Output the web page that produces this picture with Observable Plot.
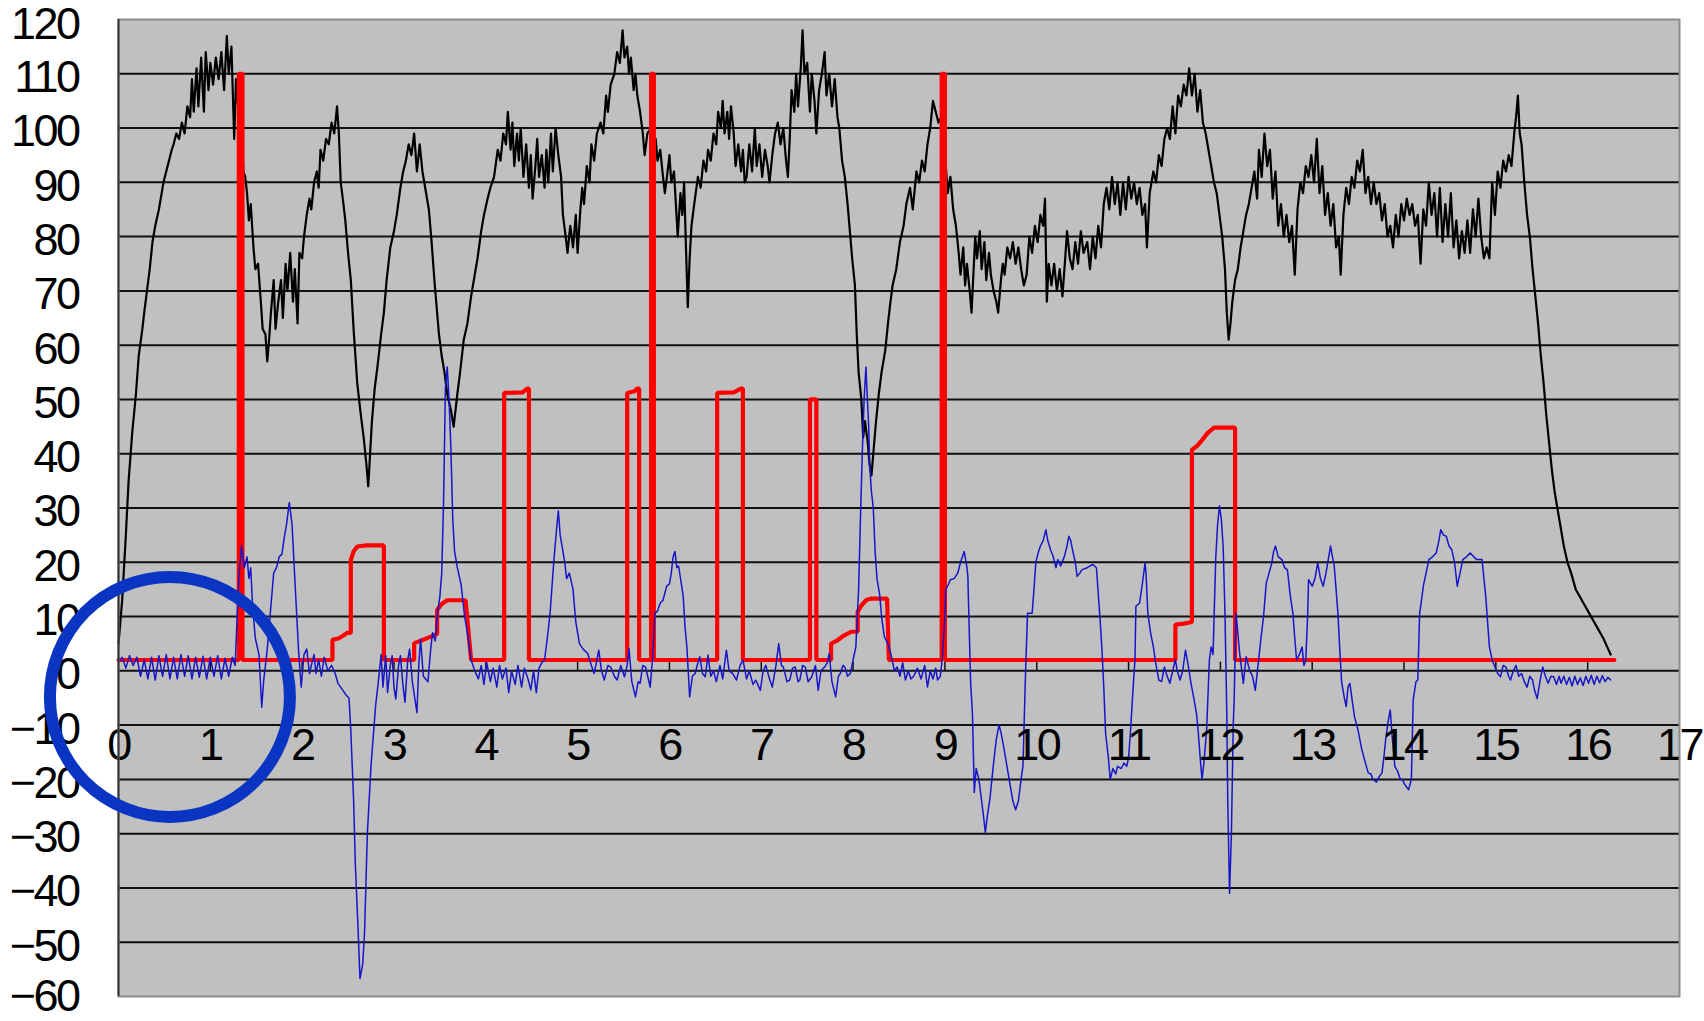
<!DOCTYPE html>
<html>
<head>
<meta charset="utf-8">
<script src="https://cdn.jsdelivr.net/npm/d3@7"></script>
<script src="https://cdn.jsdelivr.net/npm/@observablehq/plot@0.6"></script>
<style>
  html, body { margin: 0; padding: 0; background: #ffffff; }
  #chart { width: 1704px; height: 1021px; }
</style>
</head>
<body>
<div id="chart"></div>
<script>
// ---- tick labels ----
const xTicks = [0,1,2,3,4,5,6,7,8,9,10,11,12,13,14,15,16,17];
const yTicks = [-60,-50,-40,-30,-20,-10,0,10,20,30,40,50,60,70,80,90,100,110,120];

// ---- black series [x, y] ----
const blackLine = [[0,5],[0.02,9],[0.04,13],[0.06,19],[0.08,25],[0.11,35],[0.15,44],[0.19,51],[0.22,58],[0.26,63],[0.28,66],[0.31,70],[0.34,74],[0.37,79],[0.40,82],[0.44,85],[0.47,88],[0.49,90],[0.52,92],[0.55,94],[0.58,96],[0.60,97],[0.63,99],[0.66,98],[0.69,101],[0.72,99],[0.75,104],[0.78,102],[0.80,109],[0.82,103],[0.85,111],[0.87,104],[0.90,113],[0.93,103],[0.95,114],[0.98,107],[1.00,112],[1.03,108],[1.06,113],[1.09,109],[1.12,114],[1.15,107],[1.18,117],[1.20,110],[1.23,115],[1.26,98],[1.28,109],[1.31,102],[1.33,105],[1.36,92],[1.38,91],[1.40,88],[1.42,83],[1.44,86],[1.47,78],[1.49,74],[1.52,75],[1.55,68],[1.57,63],[1.60,62],[1.62,57],[1.64,61],[1.66,66],[1.69,72],[1.71,63],[1.74,68],[1.77,72],[1.79,65],[1.82,75],[1.84,70],[1.87,77],[1.90,68],[1.92,74],[1.95,64],[1.97,77],[2.00,76],[2.02,80],[2.05,84],[2.08,87],[2.10,85],[2.13,90],[2.16,92],[2.18,89],[2.20,96],[2.23,94],[2.26,98],[2.29,97],[2.32,101],[2.35,99],[2.38,104],[2.40,99],[2.42,90],[2.45,86],[2.47,83],[2.50,77],[2.53,72],[2.56,63],[2.60,53],[2.64,47],[2.67,43],[2.70,38],[2.72,34],[2.74,40],[2.76,46],[2.79,52],[2.82,56],[2.86,62],[2.89,66],[2.92,72],[2.96,78],[3.00,81],[3.03,84],[3.07,89],[3.10,92],[3.13,94],[3.16,97],[3.19,95],[3.22,99],[3.25,92],[3.28,97],[3.31,92],[3.34,89],[3.38,85],[3.41,79],[3.44,72],[3.47,66],[3.49,62],[3.52,58],[3.55,55],[3.58,51],[3.62,48],[3.65,45],[3.69,51],[3.72,55],[3.76,61],[3.80,64],[3.84,69],[3.87,72],[3.91,76],[3.95,81],[3.98,84],[4.02,87],[4.05,89],[4.09,91],[4.13,96],[4.16,94],[4.19,99],[4.22,97],[4.24,103],[4.27,96],[4.29,101],[4.31,93],[4.34,99],[4.36,94],[4.38,100],[4.41,91],[4.44,97],[4.47,89],[4.49,95],[4.51,87],[4.54,93],[4.56,98],[4.58,91],[4.61,95],[4.64,89],[4.66,96],[4.68,90],[4.71,99],[4.73,92],[4.76,100],[4.79,95],[4.82,91],[4.84,84],[4.87,80],[4.89,77],[4.92,82],[4.95,78],[4.98,84],[5.00,77],[5.03,85],[5.05,89],[5.07,86],[5.10,93],[5.13,90],[5.15,97],[5.18,94],[5.21,99],[5.25,101],[5.28,99],[5.31,106],[5.33,103],[5.36,108],[5.40,110],[5.43,114],[5.46,112],[5.49,118],[5.51,113],[5.54,115],[5.56,110],[5.58,113],[5.61,107],[5.63,110],[5.65,106],[5.68,103],[5.71,99],[5.73,95],[5.76,99],[5.80,100],[5.83,95],[5.85,98],[5.87,94],[5.90,96],[5.93,91],[5.95,88],[5.98,92],[6.00,95],[6.02,90],[6.05,92],[6.07,86],[6.09,80],[6.12,88],[6.14,84],[6.16,90],[6.18,78],[6.20,67],[6.22,76],[6.24,82],[6.27,86],[6.31,91],[6.34,89],[6.37,94],[6.40,92],[6.42,96],[6.45,94],[6.48,99],[6.51,97],[6.53,103],[6.56,100],[6.58,105],[6.60,99],[6.63,103],[6.65,98],[6.67,104],[6.70,99],[6.72,93],[6.75,97],[6.78,92],[6.80,96],[6.82,90],[6.84,91],[6.87,97],[6.90,92],[6.93,100],[6.95,93],[6.98,97],[7.01,91],[7.04,96],[7.07,93],[7.09,90],[7.12,95],[7.15,99],[7.18,101],[7.21,97],[7.24,100],[7.27,94],[7.29,91],[7.31,98],[7.33,107],[7.36,103],[7.38,110],[7.40,104],[7.43,111],[7.45,118],[7.47,110],[7.50,112],[7.53,103],[7.55,110],[7.58,105],[7.60,99],[7.63,107],[7.66,110],[7.69,114],[7.71,106],[7.74,110],[7.77,104],[7.80,109],[7.83,102],[7.85,100],[7.88,94],[7.91,91],[7.94,86],[7.96,82],[7.99,76],[8.02,71],[8.04,62],[8.06,55],[8.09,50],[8.11,43],[8.13,46],[8.16,42],[8.18,38],[8.20,36],[8.22,40],[8.25,46],[8.28,51],[8.31,55],[8.35,59],[8.38,64],[8.40,67],[8.43,71],[8.47,74],[8.51,79],[8.55,82],[8.58,86],[8.62,89],[8.65,85],[8.69,92],[8.72,90],[8.75,94],[8.78,92],[8.81,97],[8.84,100],[8.87,105],[8.90,103],[8.93,101],[8.96,102],[8.98,96],[9.01,93],[9.03,88],[9.06,91],[9.09,85],[9.12,82],[9.15,77],[9.17,73],[9.20,78],[9.22,71],[9.24,75],[9.27,70],[9.29,66],[9.31,73],[9.33,80],[9.35,76],[9.38,81],[9.40,74],[9.43,79],[9.45,72],[9.48,77],[9.50,73],[9.53,70],[9.56,68],[9.58,66],[9.61,72],[9.63,75],[9.65,73],[9.68,78],[9.71,76],[9.74,79],[9.77,75],[9.80,78],[9.83,74],[9.86,71],[9.89,73],[9.92,80],[9.95,77],[9.98,82],[10.01,79],[10.04,84],[10.07,82],[10.09,87],[10.11,68],[10.13,75],[10.16,71],[10.19,75],[10.22,70],[10.25,74],[10.28,69],[10.31,76],[10.33,81],[10.36,76],[10.39,74],[10.42,79],[10.45,75],[10.48,81],[10.51,77],[10.55,79],[10.58,74],[10.61,80],[10.64,76],[10.67,82],[10.70,78],[10.73,86],[10.76,89],[10.79,85],[10.82,91],[10.85,86],[10.88,90],[10.91,84],[10.94,90],[10.97,85],[11.00,91],[11.03,87],[11.06,90],[11.09,86],[11.12,89],[11.15,84],[11.18,86],[11.20,78],[11.23,88],[11.27,92],[11.30,90],[11.33,95],[11.36,93],[11.39,98],[11.42,100],[11.45,98],[11.48,104],[11.51,99],[11.54,106],[11.57,104],[11.60,108],[11.63,106],[11.66,111],[11.69,106],[11.72,110],[11.75,103],[11.78,107],[11.81,101],[11.84,99],[11.87,96],[11.90,93],[11.93,90],[11.96,88],[11.99,84],[12.02,80],[12.05,74],[12.07,66],[12.09,61],[12.11,64],[12.13,68],[12.16,72],[12.19,74],[12.22,78],[12.25,81],[12.28,84],[12.31,86],[12.34,89],[12.37,92],[12.40,87],[12.42,96],[12.45,91],[12.48,99],[12.51,93],[12.54,96],[12.57,87],[12.60,92],[12.63,82],[12.66,86],[12.69,80],[12.72,84],[12.75,79],[12.78,82],[12.81,73],[12.84,85],[12.87,90],[12.90,88],[12.93,93],[12.96,91],[12.99,95],[13.02,90],[13.05,98],[13.08,88],[13.11,93],[13.14,84],[13.17,88],[13.20,82],[13.23,86],[13.26,78],[13.29,80],[13.31,73],[13.34,84],[13.37,89],[13.40,86],[13.43,91],[13.46,89],[13.49,94],[13.52,92],[13.55,96],[13.58,88],[13.61,91],[13.64,86],[13.67,90],[13.70,86],[13.73,88],[13.76,83],[13.79,86],[13.82,80],[13.85,82],[13.88,78],[13.91,84],[13.94,80],[13.97,86],[14.00,83],[14.03,87],[14.06,84],[14.09,86],[14.12,82],[14.15,84],[14.18,75],[14.21,85],[14.24,82],[14.27,90],[14.30,84],[14.33,88],[14.36,80],[14.39,89],[14.42,79],[14.45,86],[14.48,80],[14.51,88],[14.54,78],[14.57,83],[14.60,76],[14.63,81],[14.66,77],[14.69,83],[14.72,77],[14.75,85],[14.78,80],[14.81,87],[14.84,80],[14.87,76],[14.90,78],[14.93,76],[14.96,90],[14.99,84],[15.02,92],[15.05,89],[15.08,94],[15.11,92],[15.14,95],[15.17,93],[15.20,99],[15.22,102],[15.24,106],[15.26,99],[15.28,97],[15.31,90],[15.34,84],[15.37,80],[15.40,74],[15.43,69],[15.46,64],[15.49,58],[15.52,53],[15.55,47],[15.58,42],[15.61,37],[15.64,33],[15.67,30],[15.71,26],[15.74,23],[15.78,20],[15.82,18],[15.87,15],[15.92,13.5],[15.97,12],[16.02,10.5],[16.07,9],[16.12,7.5],[16.17,6],[16.21,4.5],[16.25,3]];

// ---- red series [x, y] ----
const redLine = [[0,2],[1.31,2],[1.31,110],[1.35,110],[1.35,2],[2.33,2],[2.33,5.7],[2.40,6],[2.45,6.5],[2.49,7],[2.53,7],[2.53,20.4],[2.56,22],[2.60,22.9],[2.70,23.1],[2.89,23.1],[2.89,2],[3.22,2],[3.22,5.1],[3.30,5.6],[3.40,6.3],[3.47,6.8],[3.47,11.2],[3.52,12.3],[3.58,13],[3.78,13],[3.84,2],[4.20,2],[4.20,51.2],[4.40,51.3],[4.45,52],[4.47,52],[4.47,2],[5.54,2],[5.54,51.2],[5.62,51.5],[5.65,52],[5.67,52],[5.67,2],[5.80,2],[5.80,110],[5.83,110],[5.83,2],[6.52,2],[6.52,51.2],[6.70,51.3],[6.78,52],[6.80,52],[6.80,2],[7.53,2],[7.53,50],[7.60,50],[7.60,2],[7.76,2],[7.76,5],[7.82,5.5],[7.90,6.5],[7.98,7.2],[8.05,7.2],[8.05,10.9],[8.09,12],[8.14,13],[8.19,13.3],[8.37,13.3],[8.39,2],[8.965,2],[8.965,110],[9.0,110],[9.0,2],[11.51,2],[11.51,8.5],[11.60,8.7],[11.69,9],[11.69,40.7],[11.75,41.5],[11.80,42.5],[11.86,43.8],[11.93,44.8],[12.16,44.8],[12.16,2],[16.29,2]];

// ---- blue series [x, y] ----
const blueLine = [[0,1.5],[0.04,2.5],[0.08,0.5],[0.12,2.8],[0.16,1],[0.20,2.5],[0.24,-1],[0.28,2],[0.32,-1.5],[0.36,2.5],[0.40,-1.7],[0.44,2.8],[0.48,-1],[0.52,3],[0.56,-1.5],[0.60,2.5],[0.64,-1.5],[0.68,3],[0.72,-1],[0.76,2.8],[0.80,-1.5],[0.84,2.5],[0.88,-1.2],[0.92,2.7],[0.96,-1.5],[1.00,2.5],[1.04,-1],[1.08,2.8],[1.12,-1.5],[1.16,2.3],[1.20,-1],[1.24,2.5],[1.27,1],[1.31,17],[1.34,23],[1.37,19],[1.40,21],[1.42,17],[1.44,19],[1.46,12],[1.49,6],[1.53,3],[1.56,-6.7],[1.58,-2],[1.62,4],[1.66,12],[1.69,18],[1.72,19],[1.75,21],[1.78,21.5],[1.80,24],[1.83,27],[1.86,31],[1.89,27],[1.92,17],[1.96,4],[1.99,-3],[2.02,3],[2.05,4],[2.08,-0.5],[2.10,1],[2.13,3],[2.15,-0.5],[2.18,2],[2.21,-1],[2.24,2.5],[2.28,0],[2.32,1],[2.36,-0.5],[2.39,-2.3],[2.44,-3.5],[2.48,-4.5],[2.51,-5],[2.53,-11],[2.56,-23.6],[2.58,-36],[2.61,-48],[2.63,-56.7],[2.66,-54],[2.68,-48],[2.71,-30],[2.75,-17.5],[2.80,-6.4],[2.83,-2],[2.86,3],[2.88,-3],[2.91,2.8],[2.93,-4],[2.96,1],[2.98,2.8],[3.00,-3],[3.02,-5.2],[3.05,1],[3.07,2.8],[3.10,-3],[3.12,-5.8],[3.15,2],[3.17,4],[3.20,-2],[3.25,-7.7],[3.27,1],[3.29,5.8],[3.32,-1],[3.37,-2],[3.40,4],[3.42,7],[3.45,5.5],[3.47,10],[3.50,13.7],[3.52,18],[3.54,31],[3.56,52],[3.58,56],[3.60,50],[3.62,41],[3.64,28],[3.66,22],[3.69,19],[3.73,16],[3.77,10],[3.80,7],[3.84,2],[3.88,0],[3.92,-1.5],[3.95,1],[3.98,-2.5],[4.01,1.5],[4.05,-2],[4.08,0.5],[4.12,-3],[4.15,1],[4.18,-1.5],[4.22,0.5],[4.25,-4],[4.28,0],[4.32,-2.5],[4.35,1],[4.39,-3],[4.42,0.5],[4.46,-1.5],[4.49,-3.5],[4.52,0],[4.55,-4],[4.58,0.5],[4.61,1.5],[4.64,2],[4.67,6],[4.70,10.6],[4.74,20],[4.77,26],[4.79,29.5],[4.81,25],[4.83,23],[4.86,20],[4.88,17],[4.91,18],[4.95,15],[4.98,9],[5.02,5],[5.06,4],[5.11,3.2],[5.15,1],[5.18,-0.5],[5.21,2],[5.23,3.8],[5.26,0],[5.29,-1.7],[5.33,1],[5.36,0.7],[5.40,-1],[5.43,-1.7],[5.47,1],[5.51,-1.1],[5.54,1],[5.56,4.1],[5.59,-2],[5.63,-4.8],[5.66,-2],[5.68,-2.3],[5.71,1],[5.74,0.7],[5.77,-1.5],[5.79,-3],[5.82,3],[5.84,10.6],[5.87,11],[5.90,12.5],[5.93,13],[5.97,15.6],[6.00,16],[6.02,18],[6.04,21],[6.06,22],[6.08,19],[6.10,19.3],[6.13,16],[6.15,13.7],[6.17,8],[6.19,4.4],[6.22,-4.8],[6.25,-1],[6.28,-0.5],[6.31,1.5],[6.33,2.6],[6.36,-0.5],[6.39,-1.1],[6.42,2.9],[6.45,-1],[6.48,0],[6.51,-2],[6.55,1],[6.58,-1.5],[6.62,3.8],[6.65,0],[6.69,-0.5],[6.73,-1.7],[6.77,1],[6.80,2],[6.84,-1.5],[6.87,0],[6.91,-2.5],[6.94,-1.7],[6.99,-3.6],[7.02,0],[7.05,1],[7.09,-1.5],[7.12,-3],[7.16,1],[7.19,5],[7.22,1],[7.24,0.7],[7.28,-2],[7.31,-1.7],[7.34,0.5],[7.37,0.7],[7.40,-2],[7.42,-1.7],[7.45,1],[7.48,0.7],[7.51,-2],[7.55,-1.1],[7.59,1],[7.62,-3.6],[7.65,0],[7.69,0.7],[7.72,1.5],[7.74,3.2],[7.77,-2],[7.81,-4.8],[7.84,-1],[7.86,-0.5],[7.89,1],[7.91,0.7],[7.94,-1],[7.97,-0.5],[8.00,2],[8.03,4.4],[8.06,15],[8.08,28],[8.10,40],[8.12,50],[8.14,56],[8.15,52],[8.17,45],[8.18,38],[8.20,33],[8.22,30],[8.24,22],[8.26,17],[8.29,14],[8.31,10],[8.34,6.3],[8.38,5],[8.41,3.2],[8.45,0],[8.48,0.7],[8.51,-1],[8.54,1.5],[8.57,-1.7],[8.60,0],[8.63,-1.5],[8.66,-1],[8.70,0.5],[8.74,-1.5],[8.78,1],[8.81,-3],[8.84,0],[8.87,-1.5],[8.90,0.5],[8.92,-1.7],[8.95,-1],[8.97,2],[9.00,10],[9.01,15],[9.04,16],[9.06,16.8],[9.10,17],[9.14,18],[9.17,20],[9.21,22],[9.24,19],[9.25,17.4],[9.26,10.6],[9.28,-2],[9.30,-8],[9.32,-22.4],[9.34,-18],[9.37,-20],[9.40,-24],[9.42,-26.7],[9.44,-29.8],[9.46,-27],[9.49,-23.6],[9.53,-17],[9.56,-12.6],[9.59,-10],[9.61,-11.3],[9.64,-14],[9.67,-17],[9.71,-21],[9.74,-24],[9.77,-25.6],[9.80,-24],[9.83,-20],[9.85,-17.5],[9.88,0.8],[9.90,10.6],[9.95,10.6],[9.97,15],[9.99,20],[10.02,22],[10.04,23],[10.07,24],[10.10,26],[10.12,24],[10.15,22.3],[10.18,21],[10.21,19],[10.23,20.5],[10.26,19.3],[10.30,21],[10.33,23],[10.35,24.8],[10.37,24],[10.39,22.3],[10.42,20],[10.44,17.4],[10.47,18],[10.49,18.6],[10.55,19],[10.61,19.6],[10.65,19],[10.69,9.4],[10.71,4],[10.73,-3],[10.75,-11.5],[10.78,-16],[10.80,-20],[10.83,-18],[10.86,-19],[10.88,-17.6],[10.92,-18],[10.95,-17],[10.98,-17.6],[11.00,-16],[11.02,-11.5],[11.05,-3],[11.07,2],[11.08,11.9],[11.12,12.5],[11.15,16],[11.18,19.9],[11.19,18],[11.21,10.6],[11.24,7],[11.27,4.4],[11.30,1],[11.33,-1.7],[11.36,-2],[11.39,0.7],[11.42,-1],[11.45,-2.3],[11.48,0],[11.51,2],[11.53,0],[11.56,-1.7],[11.59,0],[11.62,3.8],[11.65,1],[11.68,-2.3],[11.71,-5],[11.74,-7.9],[11.76,-11.5],[11.78,-16],[11.80,-20],[11.82,-17],[11.85,-11],[11.88,2],[11.90,4.4],[11.92,3],[11.95,21],[11.97,27],[11.99,30.4],[12.01,28],[12.03,23],[12.05,10.6],[12.07,-8],[12.08,-23.7],[12.10,-41],[12.12,-30],[12.14,-10],[12.15,-5.3],[12.17,10.6],[12.19,7],[12.21,3.2],[12.25,-2.3],[12.28,2.6],[12.32,0],[12.35,-1],[12.38,-3.6],[12.41,1],[12.44,5.7],[12.47,10],[12.50,16.2],[12.53,18],[12.56,19.9],[12.58,22],[12.60,23],[12.63,21],[12.67,20.5],[12.70,19],[12.73,18.6],[12.76,14],[12.79,10.6],[12.81,6],[12.83,2],[12.86,3],[12.89,4.4],[12.91,1],[12.93,2],[12.95,10],[12.96,16.8],[13.00,15.6],[13.03,17],[13.06,19.9],[13.09,17],[13.12,15.6],[13.15,18],[13.18,21],[13.20,23],[13.22,21],[13.24,19.3],[13.26,15],[13.28,10.6],[13.30,4],[13.32,-2],[13.35,-5],[13.37,-6.6],[13.39,-3],[13.41,-2.3],[13.44,-6],[13.46,-8.4],[13.50,-11],[13.54,-14.5],[13.58,-17],[13.61,-18.8],[13.64,-19],[13.66,-20],[13.70,-20.5],[13.73,-19.5],[13.76,-18.8],[13.78,-16],[13.80,-12.7],[13.83,-9],[13.85,-7.2],[13.87,-12],[13.90,-17.6],[13.93,-18.5],[13.96,-20],[13.98,-20],[14.01,-21],[14.05,-21.9],[14.08,-20],[14.10,-5.3],[14.13,-2],[14.15,-1.7],[14.17,10.6],[14.19,13],[14.21,15.6],[14.24,18],[14.27,20.5],[14.31,21],[14.35,21.7],[14.38,24],[14.40,26],[14.43,25],[14.46,24.8],[14.49,23],[14.52,22.3],[14.55,20],[14.58,15.6],[14.61,18],[14.64,20.5],[14.68,21],[14.72,21.7],[14.76,21],[14.79,20.5],[14.83,20.5],[14.85,20.5],[14.87,17],[14.89,13.7],[14.91,9],[14.93,4.4],[14.96,2],[14.99,0.7],[15.02,-0.5],[15.05,-1.1],[15.08,1],[15.11,0.7],[15.14,-1],[15.16,-1.7],[15.19,0],[15.22,1],[15.25,-1],[15.28,-0.5],[15.31,-2],[15.34,-3],[15.37,-1],[15.40,-1.7],[15.42,-3.5],[15.45,-5.1],[15.48,-2],[15.51,0.7],[15.54,-1],[15.57,-2.3],[15.60,-1],[15.63,-1.1],[15.66,-2.5],[15.69,-1],[15.71,-2.3],[15.74,-1],[15.77,-2.5],[15.80,-1.2],[15.83,-2.8],[15.86,-1],[15.89,-2.5],[15.92,-1.3],[15.95,-2.7],[15.98,-1],[16.01,-2.3],[16.04,-0.8],[16.07,-2.5],[16.10,-1],[16.13,-2.2],[16.16,-0.9],[16.19,-2],[16.22,-1.2],[16.25,-1.7]];

// ---- annotation circle centre (data units) ----
const highlight = [[0.56, -4.8]];

const FONT = '"Liberation Sans", Arial, sans-serif';
const fmt = d => d < 0 ? "\u2212" + (-d) : String(d);
const gridTicks = yTicks.filter(d => d > -60 && d < 120);
const innerX = xTicks.filter(d => d > 0 && d < 17);
const yTop = yTicks.filter(d => d === 120);
const yBottom = yTicks.filter(d => d === -60);
const yMiddle = yTicks.filter(d => d > -60 && d < 120);

const yLabel = (data, dy) => Plot.text(data, { y: d => d, frameAnchor: "left", dx: -40, dy, text: fmt, textAnchor: "end", fill: "#000000", fontSize: 45 });

const chart = Plot.plot({
  width: 1704,
  height: 1021,
  marginLeft: 118,
  marginRight: 25,
  marginTop: 19,
  marginBottom: 25,
  style: { fontFamily: FONT, fontSize: "45px", letterSpacing: "-2.5px", background: "#ffffff", overflow: "visible" },
  x: { domain: [0, 17], axis: null },
  y: { domain: [-60, 120], axis: null },
  marks: [
    Plot.frame({ fill: "#c0c0c0", stroke: "none" }),
    Plot.ruleY(gridTicks, { y: d => d, stroke: "#111111", strokeWidth: 2 }),
    Plot.ruleX(innerX, { x: d => d, y1: 0, y2: 1.6, stroke: "#111111", strokeWidth: 1.5 }),
    Plot.line(blackLine, { x: d => d[0], y: d => d[1], stroke: "#000000", strokeWidth: 2.2, curve: "linear" }),
    Plot.line(redLine, { x: d => d[0], y: d => d[1], stroke: "#ff0000", strokeWidth: 4.2, curve: "linear", strokeLinejoin: "miter" }),
    Plot.line(blueLine, { x: d => d[0], y: d => d[1], stroke: "#1616c8", strokeWidth: 1.5, curve: "linear" }),
    Plot.text(xTicks, { x: d => d, y: 0, text: d => String(d), dy: 89, lineAnchor: "bottom", textAnchor: "middle", fill: "#000000", fontSize: 45 }),
    yLabel(yTop, 5),
    yLabel(yMiddle, 4),
    yLabel(yBottom, 0),
    Plot.frame({ stroke: "#8c8c8c", strokeWidth: 2 }),
    Plot.ruleX([0], { stroke: "#333333", strokeWidth: 2 }),
    Plot.dot(highlight, { x: d => d[0], y: d => d[1], r: 120, stroke: "#0a35c2", strokeWidth: 12, fill: "none" })
  ]
});
document.getElementById("chart").appendChild(chart);
</script>
</body>
</html>
